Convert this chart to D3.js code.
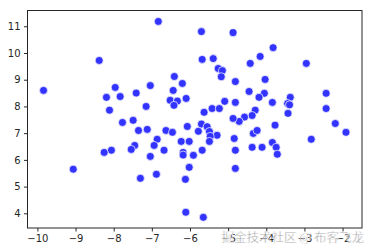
<!DOCTYPE html>
<html>
<head>
<meta charset="utf-8">
<script src="https://d3js.org/d3.v7.min.js"></script>
<style>
  body { margin: 0; background: #fff; }
  .axis text { font-family: "DejaVu Sans", sans-serif; font-size: 10px; fill: #262626; }
  .axis line { stroke: #262626; }
  .axis path { display: none; }
</style>
</head>
<body>
<svg id="chart" width="372" height="252"></svg>
<script>
// points
var xs = [-9.84, -9.06, -8.38, -6.83, -8.19, -7.96, -7.83, -8.11, -7.41, -7.04,
  -7.15, -7.77, -7.49, -6.41, -6.44, -6.20, -6.52, -6.33, -6.42, -6.10,
  -5.70, -4.87, -3.82, -4.16, -4.42, -2.95, -5.68, -5.39, -5.26, -5.15,
  -5.18, -4.81, -4.03, -4.45, -4.05, -4.19, -5.09, -4.81, -3.84, -3.37,
  -3.44, -3.39, -2.43, -2.43, -5.42, -5.23, -5.63, -4.29, -4.37, -4.57,
  -4.71, -4.87, -3.43, -2.19, -3.77, -5.70, -5.55, -6.07, -7.35, -7.12,
  -6.63, -6.46, -6.86, -6.23, -7.45, -7.54, -6.94, -6.68, -8.06, -8.25,
  -6.18, -6.18, -7.04, -7.30, -6.88, -6.12, -6.11, -5.65, -5.78, -5.49,
  -5.29, -5.47, -5.49, -6.02, -4.84, -4.34, -4.24, -4.81, -4.37, -4.11,
  -3.84, -3.74, -3.71, -2.82, -1.91, -5.68, -5.91, -6.02, -4.81];
var ys = [8.60, 5.65, 9.72, 11.18, 8.34, 8.71, 8.37, 7.86, 8.50, 8.78,
  8.00, 7.40, 7.48, 9.12, 8.60, 8.86, 8.23, 8.20, 8.04, 8.30,
  10.80, 10.76, 10.20, 9.87, 9.61, 9.61, 9.76, 9.79, 9.42, 9.34,
  9.11, 8.93, 9.01, 8.56, 8.49, 8.34, 8.19, 8.15, 8.15, 8.34,
  8.11, 8.06, 8.49, 7.92, 7.92, 7.92, 7.78, 7.86, 7.66, 7.60,
  7.44, 7.55, 7.74, 7.36, 7.30, 7.34, 7.24, 7.25, 7.10, 7.14,
  7.10, 7.03, 6.77, 6.69, 6.54, 6.39, 6.54, 6.36, 6.36, 6.28,
  6.28, 6.18, 6.13, 5.31, 5.46, 5.27, 4.04, 3.85, 7.07, 7.06,
  6.92, 6.88, 6.69, 6.69, 6.80, 6.99, 7.10, 6.36, 6.47, 6.47,
  6.65, 6.47, 6.21, 6.77, 7.03, 6.36, 6.17, 5.72, 5.68];
var xTicks = [-10, -9, -8, -7, -6, -5, -4, -3, -2];
var yTicks = [4, 5, 6, 7, 8, 9, 10, 11];

var svg = d3.select("svg#chart"),
    margin = {top: 10.5, right: 10, bottom: 24, left: 27.5},
    width = +svg.attr("width") - margin.left - margin.right,
    height = +svg.attr("height") - margin.top - margin.bottom;

var x = d3.scaleLinear().domain([-10.26, -1.49]).range([0, width]);
var y = d3.scaleLinear().domain([3.45, 11.59]).range([height, 0]);

var g = svg.append("g")
  .attr("transform", "translate(" + margin.left + "," + margin.top + ")");

g.append("g")
  .attr("class", "axis axis--x")
  .attr("transform", "translate(0," + height + ")")
  .call(d3.axisBottom(x).tickValues(xTicks).tickSize(3.5).tickPadding(3)
    .tickFormat(function(d) { return String(d).replace("-", "\u2212"); }));

g.append("g")
  .attr("class", "axis axis--y")
  .call(d3.axisLeft(y).tickValues(yTicks).tickSize(3.5).tickPadding(3.5));

// points
g.selectAll("circle.dot")
  .data(xs.map(function(v, i) { return {x: v, y: ys[i]}; }))
  .enter().append("circle")
  .attr("class", "dot")
  .attr("cx", function(d) { return x(d.x); })
  .attr("cy", function(d) { return y(d.y); })
  .attr("r", 4)
  .attr("fill", "#3333ff")
  .attr("stroke", "#fff")
  .attr("stroke-width", 0.7);

// frame
g.append("rect")
  .attr("width", width)
  .attr("height", height)
  .attr("fill", "none")
  .attr("stroke", "#262626")
  .attr("stroke-width", 1);

// watermark
svg.append("text")
  .attr("x", 364)
  .attr("y", 242)
  .attr("text-anchor", "end")
  .style("font-family", "'Noto Sans CJK SC', sans-serif")
  .style("font-size", "12.5px")
  .attr("fill", "#7a7a7a")
  .attr("stroke", "#fff")
  .attr("stroke-width", 0.4)
  .attr("opacity", 0.85)
  .text("掘金技术社区 @ 布客飞龙");
</script>
</body>
</html>
